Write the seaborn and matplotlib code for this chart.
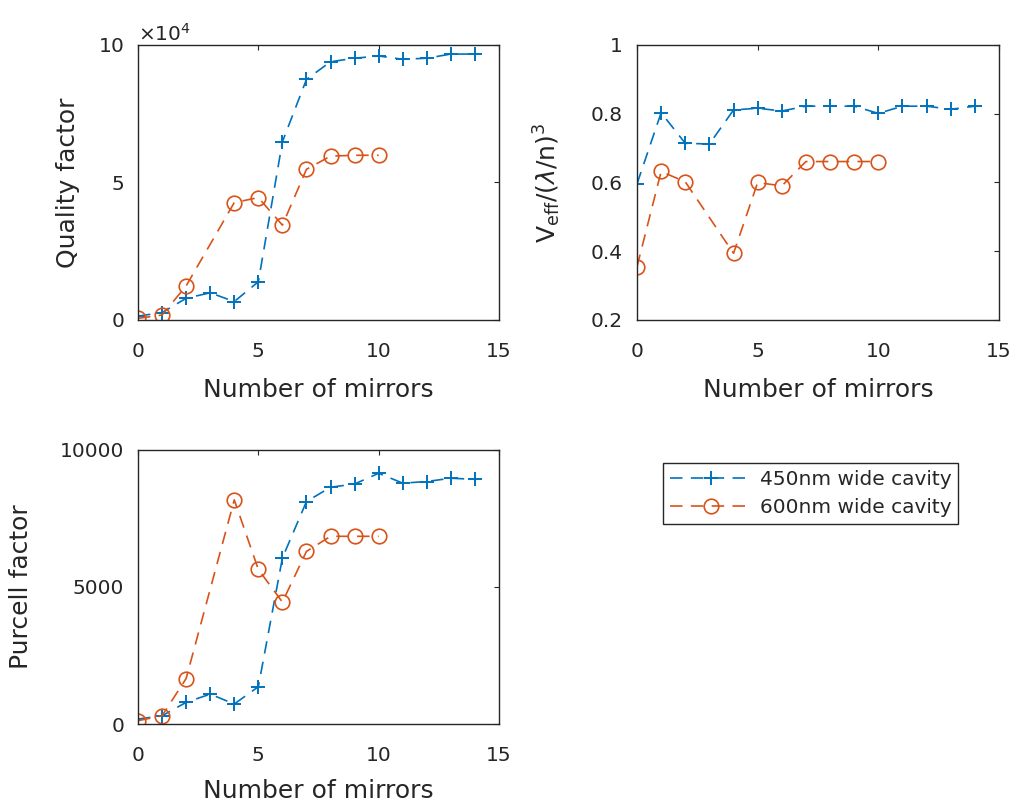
import matplotlib
matplotlib.use("Agg")
import matplotlib.pyplot as plt
import matplotlib.ticker as mticker
import seaborn as sns
import pandas as pd

# ---------------- data ----------------
mirrors_450 = [0, 1, 2, 3, 4, 5, 6, 7, 8, 9, 10, 11, 12, 13, 14]
mirrors_600 = [0, 1, 2, 4, 5, 6, 7, 8, 9, 10]

q_450 = [1400, 2700, 7900, 9900, 6700, 13900, 64800, 87500, 93900, 95200,
         96000, 94800, 95200, 96700, 96700]
q_600 = [600, 1800, 12400, 42700, 44500, 34500, 54800, 59600, 59900, 59900]

veff_450 = [0.596, 0.803, 0.714, 0.712, 0.811, 0.816, 0.808, 0.822, 0.822,
            0.822, 0.801, 0.822, 0.822, 0.813, 0.822]
veff_600 = [0.355, 0.632, 0.602, 0.394, 0.600, 0.590, 0.661, 0.661, 0.661, 0.661]

purcell_450 = [180, 300, 790, 1090, 730, 1360, 6060, 8120, 8640, 8760,
               9150, 8790, 8850, 8970, 8930]
purcell_600 = [120, 300, 1660, 8180, 5640, 4450, 6300, 6850, 6850, 6850]

series_labels = ["450nm wide cavity", "600nm wide cavity"]
x_ticks = [0, 5, 10, 15]
q_ticks = [0, 50000, 100000]
veff_ticks = [0.2, 0.4, 0.6, 0.8, 1.0]
purcell_ticks = [0, 5000, 10000]

x_label = "Number of mirrors"
q_label = "Quality factor"
veff_label = r"V$_{\rm eff}$/($\lambda$/n)$^3$"
purcell_label = "Purcell factor"

# ---------------- style ----------------
sns.set_style("white")
plt.rcParams["font.family"] = ["DejaVu Sans"]
plt.rcParams["lines.scale_dashes"] = False
TXT = "#262626"
BLUE = "#0072BD"
ORANGE = "#D95319"

fig = plt.figure(figsize=(10.19, 8.11), dpi=100)
W, H = 1019.0, 811.0


def axes_px(x0, y0, x1, y1):
    return fig.add_axes([x0 / W, 1 - y1 / H, (x1 - x0) / W, (y1 - y0) / H])


ax_q = axes_px(138, 45, 499, 320)
ax_v = axes_px(637, 45, 999, 320)
ax_p = axes_px(138, 450, 499, 724)


def draw(ax, y450, y600):
    d450 = pd.DataFrame({"x": mirrors_450, "y": y450})
    d600 = pd.DataFrame({"x": mirrors_600, "y": y600})
    sns.lineplot(data=d450, x="x", y="y", ax=ax, color=BLUE, marker="+",
                 markersize=10, markeredgewidth=1.4, markeredgecolor=BLUE,
                 linewidth=1.2, dashes=False, linestyle=(0, (9, 6)),
                 label=series_labels[0])
    sns.lineplot(data=d600, x="x", y="y", ax=ax, color=ORANGE, marker="o",
                 markersize=10.5, markeredgewidth=1.2, markeredgecolor=ORANGE,
                 markerfacecolor="none", linewidth=1.2, dashes=False,
                 linestyle=(0, (9, 6)), label=series_labels[1])
    leg = ax.get_legend()
    if leg is not None:
        leg.remove()
    ax.set_xlim(0, 15)
    ax.set_xticks(x_ticks)
    ax.tick_params(axis="both", direction="in", length=3.5, width=0.8,
                   top=True, right=True, colors=TXT, labelsize=14.5,
                   labelcolor=TXT)
    ax.tick_params(axis="x", pad=16)
    ax.tick_params(axis="y", pad=10)
    for s in ax.spines.values():
        s.set_color(TXT)
        s.set_linewidth(1.0)
    ax.set_xlabel(x_label, fontsize=18, color=TXT)
    ax.xaxis.set_label_coords(0.5, -0.212)


draw(ax_q, q_450, q_600)
ax_q.set_ylim(0, 100000)
ax_q.set_yticks(q_ticks)
fmt = mticker.ScalarFormatter(useMathText=True)
ax_q.yaxis.set_major_formatter(fmt)
ax_q.ticklabel_format(axis="y", style="sci", scilimits=(4, 4))
ax_q.yaxis.get_offset_text().set_fontsize(14.5)
ax_q.yaxis.get_offset_text().set_color(TXT)
ax_q.set_ylabel(q_label, fontsize=18, color=TXT)
ax_q.yaxis.set_label_coords(-0.161, 0.5)

draw(ax_v, veff_450, veff_600)
ax_v.set_ylim(0.2, 1.0)
ax_v.set_yticks(veff_ticks)
ax_v.yaxis.set_major_formatter(mticker.FuncFormatter(lambda v, _: f"{v:g}"))
ax_v.set_ylabel(veff_label, fontsize=18, color=TXT)
ax_v.yaxis.set_label_coords(-0.204, 0.5)

draw(ax_p, purcell_450, purcell_600)
ax_p.set_ylim(0, 10000)
ax_p.set_yticks(purcell_ticks)
ax_p.set_ylabel(purcell_label, fontsize=18, color=TXT)
ax_p.yaxis.set_label_coords(-0.291, 0.5)
ax_p.xaxis.set_label_coords(0.5, -0.2)

handles, labels = ax_q.get_legend_handles_labels()
leg = fig.legend(handles, labels, loc="upper left",
                 bbox_to_anchor=(663 / W, 1 - 463 / H), fontsize=14.5,
                 frameon=True, fancybox=False, edgecolor=TXT, framealpha=1,
                 handlelength=4.1, handletextpad=0.35, borderpad=0.35,
                 labelspacing=0.45, borderaxespad=0, labelcolor=TXT)
leg.get_frame().set_linewidth(1.0)

fig.savefig("out.png", dpi=100)
